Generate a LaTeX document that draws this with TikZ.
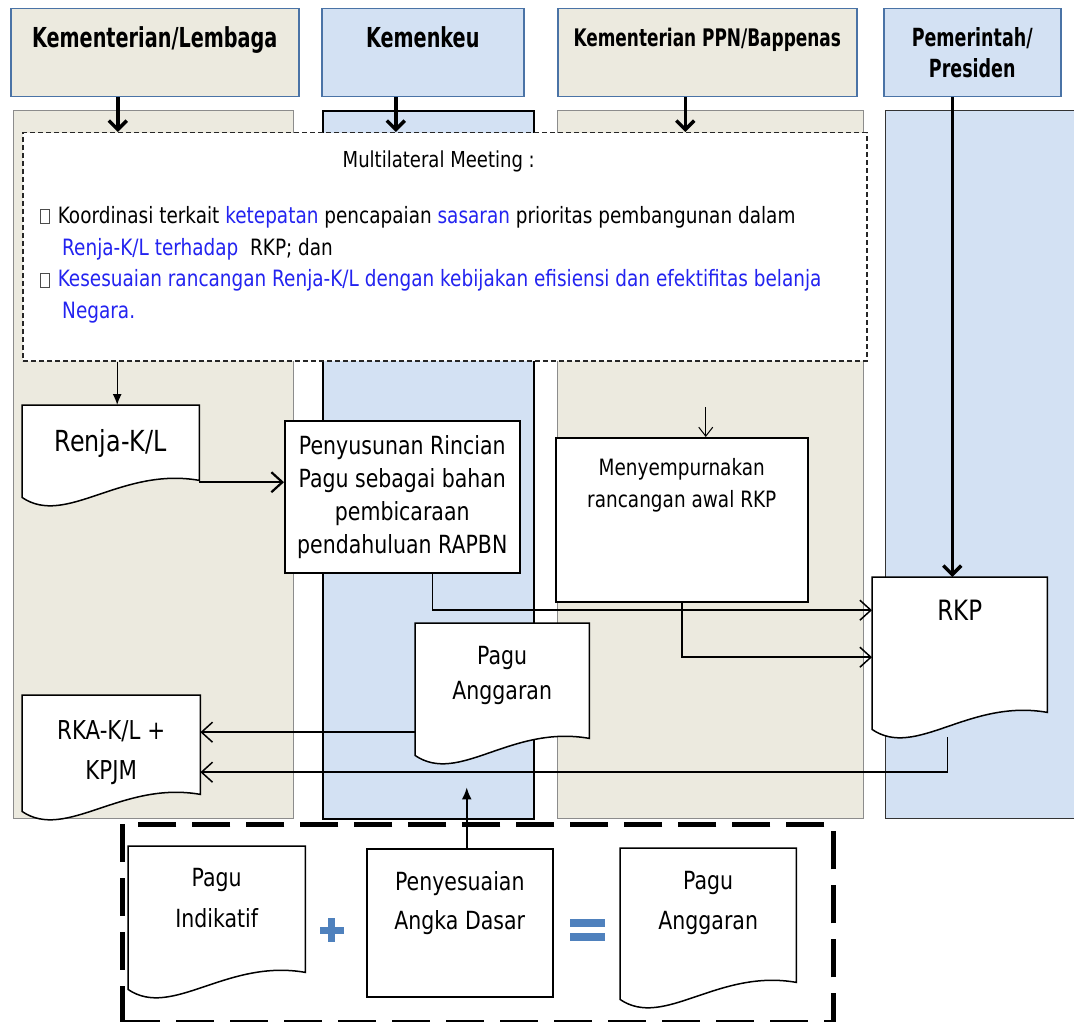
\documentclass[tikz,border=0pt]{standalone}
\usepackage{fontspec}
\setmainfont{DejaVu Sans}[FakeStretch=0.82]
\newfontfamily\hdrfont{DejaVu Sans}[FakeStretch=0.7]
\usepackage{tikz}
\usetikzlibrary{arrows.meta}
\usetikzlibrary{positioning}
\usetikzlibrary{calc}
\definecolor{beige}{HTML}{ECEADF}
\definecolor{paleblue}{HTML}{D3E1F3}
\definecolor{hdrline}{HTML}{4A73A6}
\definecolor{lanegray}{HTML}{8C8C8C}
\definecolor{txtblue}{HTML}{2323F0}
\definecolor{signblue}{HTML}{4F81BD}
\pgfdeclarelayer{background}
\pgfdeclarelayer{docs}
\pgfsetlayers{background,docs,main}
\tikzset{
  >=latex,
  % header boxes and swim lanes
  hdr/.style={draw=hdrline, line width=1.5pt, anchor=north west, inner sep=0pt, minimum height=88pt},
  hdrtext/.style={font=\hdrfont\bfseries\fontsize{27.5}{31}\selectfont, align=center},
  lane/.style={draw=lanegray, line width=1pt, anchor=north west, inner sep=0pt, minimum height=708pt},
  % flowchart shapes
  procbox/.style={draw, line width=1.5pt, fill=white, anchor=north west, inner sep=0pt, align=center},
  doc/.style={anchor=north west, inner sep=0pt, align=center},
  docline/.style={draw, line width=1.5pt, fill=white},
  flow/.style={draw, line width=1.5pt, -{Straight Barb[length=11pt,width=20pt]}},
  down/.style={draw, line width=3.5pt, -{Straight Barb[length=9pt,width=18pt]}}
}
% outline of a document symbol round a node
\newcommand{\docshape}[1]{%
  \begin{pgfonlayer}{docs}
    \draw[docline] ($(#1.south west)+(0,-8)$) -- (#1.north west) -- (#1.north east)
      -- ($(#1.south east)+(0,-25)$) .. controls +(-79,-14) and +(44,30) .. ($(#1.south west)+(0,-8)$) -- cycle;
  \end{pgfonlayer}}
\newcommand{\nobox}{{\setlength{\fboxsep}{0pt}\setlength{\fboxrule}{0.8pt}\color{black!70}\fbox{\rule{0pt}{13pt}\rule{8pt}{0pt}}}}

\begin{document}
\begin{tikzpicture}[x=1pt, y=-1pt, font=\fontsize{25}{33}\selectfont]
    \useasboundingbox (0,0) rectangle (1074,1022);

    % Swim lanes
    \begin{pgfonlayer}{background}
    \node [lane, fill=beige, minimum width=280pt] (kllane) at (13,110) {};
    \node [lane, fill=paleblue, draw=black, line width=2pt, minimum width=211pt] (kulane) at (322,110) {};
    \node [lane, fill=beige, minimum width=306pt] (ppnlane) at (557,110) {};
    \node [lane, fill=paleblue, draw=black!80, minimum width=200pt] (pmlane) at (885,110) {};
    \end{pgfonlayer}

    % Headers
    \node [hdr, fill=beige, minimum width=288pt] (klhead) at (10,8) {};
    \node [hdrtext, below=15pt of klhead.north] (kltext) {Kementerian/Lembaga};
    \node [hdr, fill=paleblue, minimum width=202pt] (kuhead) at (321,8) {};
    \node [hdrtext, below=15pt of kuhead.north] (kutext) {Kemenkeu};
    \node [hdr, fill=beige, minimum width=299pt] (ppnhead) at (557,8) {};
    \node [hdrtext, font=\hdrfont\bfseries\fontsize{24.2}{31}\selectfont, below=17pt of ppnhead.north] (ppntext) {Kementerian PPN/Bappenas};
    \node [hdr, fill=paleblue, minimum width=177pt] (pmhead) at (883,8) {};
    \node [hdrtext, font=\hdrfont\bfseries\fontsize{25}{31}\selectfont, below=16pt of pmhead.north] (pmtext) {Pemerintah/\\Presiden};

    % Multilateral meeting
    \node [draw=black!85, dash pattern=on 5pt off 3pt, line width=1.5pt, fill=white, anchor=north west, inner sep=0pt,
           minimum width=844pt, minimum height=228pt] (meet) at (22,132) {};
    \node [font=\fontsize{22}{32}\selectfont, below=15pt of meet.north, xshift=-6pt] (meettitle) {Multilateral Meeting :};
    \node [anchor=north west, align=left, inner sep=0pt, font=\fontsize{22.5}{31.8}\selectfont] (meettext) at (40,206) {%
      \nobox\hspace{8pt}Koordinasi terkait \textcolor{txtblue}{ketepatan} pencapaian \textcolor{txtblue}{sasaran} prioritas pembangunan dalam\\
      \hspace*{22pt}\textcolor{txtblue}{Renja-K/L terhadap}\ \ RKP; dan\\
      \nobox\hspace{8pt}\textcolor{txtblue}{Kesesuaian rancangan Renja-K/L dengan kebijakan efisiensi dan efektifitas belanja}\\
      \hspace*{22pt}\textcolor{txtblue}{Negara.}};

    % Place nodes
    \node [doc, minimum width=177pt, text height=46pt, text depth=54pt, font=\fontsize{29}{34}\selectfont] (renja) at (22,405) {Renja-K/L};
    \node [procbox, minimum width=235pt, minimum height=152pt] (pny) at (284,420)
          {Penyusunan Rincian\\Pagu sebagai bahan\\pembicaraan\\pendahuluan RAPBN};
    \node [procbox, minimum width=252pt, text height=70pt, text depth=94pt, font=\fontsize{22.5}{32}\selectfont] (mny) at (555,437)
          {Menyempurnakan\\rancangan awal RKP};
    \node [doc, minimum width=175pt, text height=43pt, text depth=117pt, font=\fontsize{28}{34}\selectfont] (rkp) at (872,577) {RKP};
    \node [doc, minimum width=174pt, text height=76pt, text depth=64pt, font=\fontsize{25}{35}\selectfont] (pagu) at (415,623) {Pagu\\Anggaran};
    \node [doc, minimum width=178pt, text height=84pt, text depth=40pt, font=\fontsize{26}{40}\selectfont] (rka) at (22,695) {RKA-K/L +\\KPJM};

    % Pagu calculation
    \node [draw, line width=4.5pt, dash pattern=on 38pt off 16pt, anchor=north west, inner sep=0pt,
           minimum width=711pt, minimum height=198pt] (sumbox) at (120,822) {};
    \node [doc, minimum width=177pt, text height=81pt, text depth=70pt, font=\fontsize{25}{41}\selectfont] (indik) at (128,846) {Pagu\\Indikatif};
    \node [procbox, minimum width=186pt, text height=81pt, text depth=67pt, font=\fontsize{25}{39}\selectfont] (pad) at (366,848) {Penyesuaian\\Angka Dasar};
    \node [doc, minimum width=176pt, text height=81pt, text depth=78pt, font=\fontsize{25}{40}\selectfont] (paguakhir) at (620,848) {Pagu\\Anggaran};
    \node [text=signblue, inner sep=0pt] (plus) at (336,930) {\rule[-12pt]{7pt}{24pt}\hspace{-15.5pt}\rule[-3.5pt]{24pt}{7pt}};
    \node [text=signblue, inner sep=0pt] (equal) at (587,930) {\rule[4pt]{35pt}{8pt}\hspace{-35pt}\rule[-10pt]{35pt}{8pt}};

    \docshape{renja}
    \docshape{rkp}
    \docshape{pagu}
    \docshape{rka}
    \docshape{indik}
    \docshape{paguakhir}

    % Draw edges
    \draw [down] ([xshift=-37pt]klhead.south) -- ([xshift=-37pt]klhead.south |- meet.north);
    \draw [down] ([xshift=-27pt]kuhead.south) -- ([xshift=-27pt]kuhead.south |- meet.north);
    \draw [down] ([xshift=-22pt]ppnhead.south) -- ([xshift=-22pt]ppnhead.south |- meet.north);
    \draw [down] ([xshift=-20pt]pmhead.south) -- ([xshift=-20pt]pmhead.south |- rkp.north);
    \draw [line width=1.3pt, -{Latex[length=11pt,width=9pt]}] ([xshift=6.5pt]renja.north |- meet.south) -- ([xshift=6.5pt]renja.north);
    \draw [flow, line width=2.2pt] ([yshift=-27pt]renja.east) -- ([yshift=-27pt]renja.east -| pny.west);
    \draw [flow] ([xshift=30pt]pny.south) |- ([yshift=47pt]rkp.west);
    \coordinate (mnyin) at ([xshift=24pt, yshift=30pt]mny.north);
    \draw [flow, line width=1pt, -{Straight Barb[length=9pt,width=14pt]}] (mnyin) -- (mnyin |- mny.north);
    \draw [flow] (mny.south) |- (rkp.west);
    \draw [flow] ([yshift=-39pt]pagu.west) -- ([yshift=-39pt]pagu.west -| rka.east);
    \draw [flow] ([xshift=-12pt]rkp.south) |- ([yshift=-15pt]rka.east);
    \draw [line width=2pt, -{Latex[length=12pt,width=10pt]}, shorten >=24pt] ([xshift=7pt]pad.north) -- ([xshift=7pt]pad.north |- pagu.south);

\end{tikzpicture}
\end{document}
